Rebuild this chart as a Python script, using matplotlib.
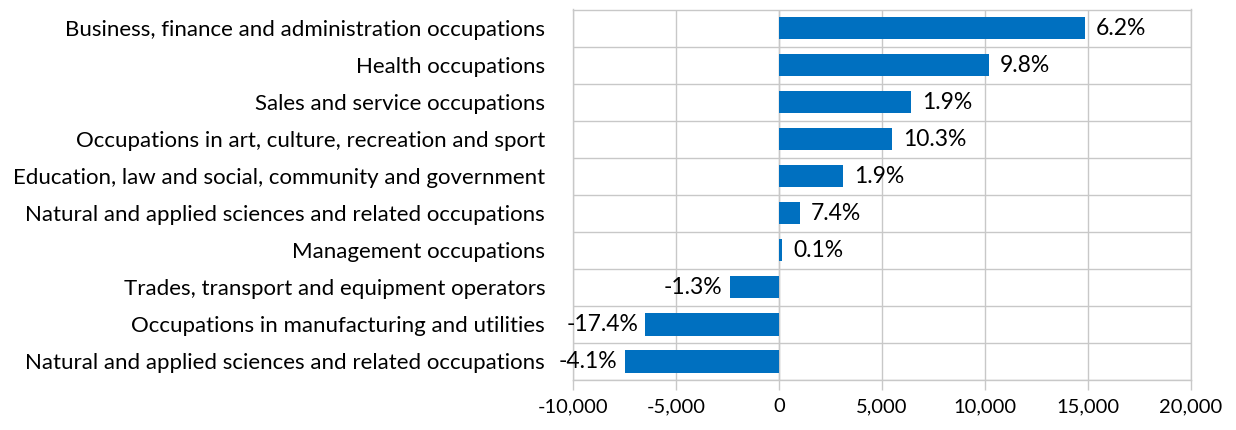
import matplotlib
matplotlib.use("Agg")
import matplotlib.pyplot as plt
from matplotlib.ticker import FuncFormatter, MultipleLocator, FixedLocator
import numpy as np

plt.rcParams['font.family'] = ['Lato', 'DejaVu Sans']

categories = [
    "Business, finance and administration occupations",
    "Health occupations",
    "Sales and service occupations",
    "Occupations in art, culture, recreation and sport",
    "Education, law and social, community and government",
    "Natural and applied sciences and related occupations",
    "Management occupations",
    "Trades, transport and equipment operators",
    "Occupations in manufacturing and utilities",
    "Natural and applied sciences and related occupations",
]
values = [14850, 10200, 6400, 5500, 3100, 1000, 150, -2400, -6500, -7500]
pct_labels = ["6.2%", "9.8%", "1.9%", "10.3%", "1.9%", "7.4%", "0.1%",
              "-1.3%", "-17.4%", "-4.1%"]

bar_color = "#0070C0"
grid_color = "#C8C8C8"

fig = plt.figure(figsize=(12.36, 4.30), dpi=100)
ax = fig.add_axes([573/1236, 1 - 380/430, (1191-573)/1236, (380-9.5)/430])

y = np.arange(len(categories))
ax.barh(y, values, height=0.6, color=bar_color, zorder=3)

ax.set_xlim(-10000, 20000)
ax.set_ylim(len(categories) - 0.5, -0.5)

ax.xaxis.set_major_locator(MultipleLocator(5000))
ax.xaxis.set_major_formatter(FuncFormatter(lambda v, p: f"{int(v):,}"))
ax.tick_params(axis='x', direction='out', length=7, width=1, color=grid_color,
               labelsize=14.5, pad=6, labelcolor='black')

ax.set_yticks(y)
ax.set_yticklabels(categories, fontsize=16)
ax.tick_params(axis='y', length=0, pad=20)
ax.yaxis.set_minor_locator(FixedLocator(np.arange(-0.5, len(categories), 1.0)))
ax.tick_params(axis='y', which='minor', length=0)

ax.grid(True, axis='x', which='major', color=grid_color, linewidth=1, zorder=0)
ax.grid(True, axis='y', which='minor', color=grid_color, linewidth=1, zorder=0)

for s in ax.spines.values():
    s.set_color(grid_color)
    s.set_linewidth(1)

ax.axvline(0, color=grid_color, linewidth=1, zorder=2)

for yi, v, lab in zip(y, values, pct_labels):
    if v >= 0:
        ax.annotate(lab, xy=(v, yi), xytext=(8, 0), textcoords='offset points',
                    ha='left', va='center', fontsize=16.5)
    else:
        ax.annotate(lab, xy=(v, yi), xytext=(-5, 0), textcoords='offset points',
                    ha='right', va='center', fontsize=16.5)

fig.savefig("out.png", dpi=100)
